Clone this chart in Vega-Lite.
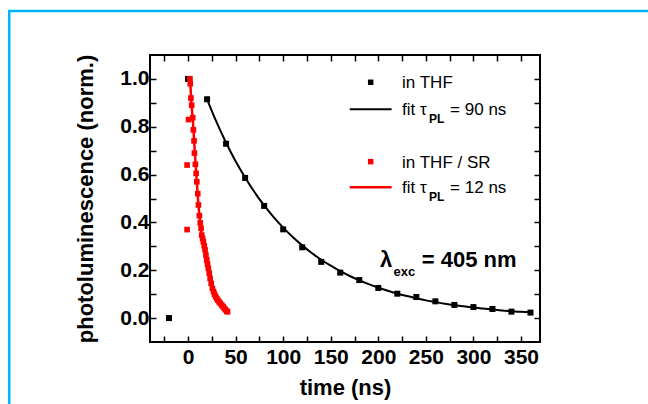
{
  "$schema": "https://vega.github.io/schema/vega-lite/v6.json",
  "width": 390,
  "height": 287,
  "autosize": "none",
  "padding": {"left": 150, "top": 55, "right": 108, "bottom": 62},
  "background": "white",
  "config": {
    "view": {"stroke": "black", "strokeWidth": 2},
    "font": "Liberation Sans",
    "axis": {
      "domain": false,
      "grid": false,
      "tickColor": "black",
      "tickWidth": 1.5,
      "tickSize": -6,
      "labelFont": "Liberation Sans",
      "labelFontSize": 21,
      "labelFontWeight": "bold",
      "labelColor": "black",
      "titleFont": "Liberation Sans",
      "titleFontSize": 22,
      "titleFontWeight": "bold",
      "titleColor": "black"
    }
  },
  "datasets": {
    "thf": [
      {"t": -20, "pl": 0.0},
      {"t": 0, "pl": 1.0},
      {"t": 20, "pl": 0.915},
      {"t": 40, "pl": 0.729},
      {"t": 60, "pl": 0.586},
      {"t": 80, "pl": 0.469},
      {"t": 100, "pl": 0.371},
      {"t": 120, "pl": 0.296},
      {"t": 140, "pl": 0.235},
      {"t": 160, "pl": 0.19},
      {"t": 180, "pl": 0.159},
      {"t": 200, "pl": 0.126},
      {"t": 220, "pl": 0.102},
      {"t": 240, "pl": 0.088},
      {"t": 260, "pl": 0.07},
      {"t": 280, "pl": 0.055},
      {"t": 300, "pl": 0.046},
      {"t": 320, "pl": 0.038},
      {"t": 340, "pl": 0.027},
      {"t": 360, "pl": 0.023}
    ],
    "thf_fit": [
      {"t": 20, "pl": 0.915}, {"t": 30, "pl": 0.819}, {"t": 40, "pl": 0.733},
      {"t": 50, "pl": 0.656}, {"t": 60, "pl": 0.588}, {"t": 70, "pl": 0.526},
      {"t": 80, "pl": 0.471}, {"t": 90, "pl": 0.422}, {"t": 100, "pl": 0.378},
      {"t": 110, "pl": 0.339}, {"t": 120, "pl": 0.304}, {"t": 130, "pl": 0.272},
      {"t": 140, "pl": 0.244}, {"t": 150, "pl": 0.219}, {"t": 160, "pl": 0.196},
      {"t": 170, "pl": 0.176}, {"t": 180, "pl": 0.158}, {"t": 190, "pl": 0.142},
      {"t": 200, "pl": 0.127}, {"t": 210, "pl": 0.114}, {"t": 220, "pl": 0.102},
      {"t": 230, "pl": 0.092}, {"t": 240, "pl": 0.083}, {"t": 250, "pl": 0.074},
      {"t": 260, "pl": 0.067}, {"t": 270, "pl": 0.06}, {"t": 280, "pl": 0.054},
      {"t": 290, "pl": 0.049}, {"t": 300, "pl": 0.044}, {"t": 310, "pl": 0.04},
      {"t": 320, "pl": 0.036}, {"t": 330, "pl": 0.032}, {"t": 340, "pl": 0.029},
      {"t": 350, "pl": 0.026}, {"t": 360, "pl": 0.024}
    ],
    "sr": [
      {"t": -1, "pl": 0.37}, {"t": -1, "pl": 0.64}, {"t": 0.5, "pl": 0.83},
      {"t": 2.0, "pl": 1.0}, {"t": 2.3, "pl": 0.98}, {"t": 3.0, "pl": 0.92},
      {"t": 3.8, "pl": 0.89}, {"t": 4.9, "pl": 0.838}, {"t": 5.6, "pl": 0.787},
      {"t": 6.3, "pl": 0.741}, {"t": 6.7, "pl": 0.69}, {"t": 7.7, "pl": 0.643},
      {"t": 8.5, "pl": 0.605}, {"t": 9.2, "pl": 0.57}, {"t": 10.2, "pl": 0.52},
      {"t": 10.9, "pl": 0.473}, {"t": 11.9, "pl": 0.428}, {"t": 12.8, "pl": 0.398},
      {"t": 13.7, "pl": 0.375}, {"t": 14.4, "pl": 0.347}, {"t": 15.3, "pl": 0.333},
      {"t": 16.1, "pl": 0.319}, {"t": 17.0, "pl": 0.302}, {"t": 17.9, "pl": 0.285},
      {"t": 18.8, "pl": 0.263}, {"t": 19.7, "pl": 0.243}, {"t": 20.5, "pl": 0.225},
      {"t": 21.3, "pl": 0.208}, {"t": 22.3, "pl": 0.188}, {"t": 23.2, "pl": 0.166},
      {"t": 24.3, "pl": 0.145}, {"t": 25.6, "pl": 0.124}, {"t": 26.8, "pl": 0.111},
      {"t": 27.8, "pl": 0.1}, {"t": 29.0, "pl": 0.09}, {"t": 30.2, "pl": 0.082},
      {"t": 31.3, "pl": 0.075}, {"t": 32.6, "pl": 0.068}, {"t": 34.0, "pl": 0.061},
      {"t": 35.5, "pl": 0.054}, {"t": 36.8, "pl": 0.048}, {"t": 38.1, "pl": 0.041},
      {"t": 39.3, "pl": 0.035}, {"t": 40.7, "pl": 0.029}, {"t": 41.5, "pl": 0.026}
    ],
    "sr_fit": [
      {"t": 2.3, "pl": 0.99}, {"t": 3.5, "pl": 0.9}, {"t": 5, "pl": 0.83},
      {"t": 7, "pl": 0.7}, {"t": 9, "pl": 0.58}, {"t": 11, "pl": 0.47},
      {"t": 13, "pl": 0.39}, {"t": 15, "pl": 0.335}, {"t": 17, "pl": 0.3},
      {"t": 19, "pl": 0.26}, {"t": 21, "pl": 0.215}, {"t": 23, "pl": 0.17},
      {"t": 25, "pl": 0.135}, {"t": 27, "pl": 0.108}, {"t": 29, "pl": 0.09},
      {"t": 31, "pl": 0.077}, {"t": 33, "pl": 0.066}, {"t": 35, "pl": 0.056},
      {"t": 37, "pl": 0.047}, {"t": 39, "pl": 0.037}, {"t": 41.5, "pl": 0.026}
    ],
    "one": [{}]
  },
  "layer": [
    {
      "data": {"name": "thf_fit"},
      "mark": {"type": "line", "color": "black", "strokeWidth": 2, "interpolate": "monotone"},
      "encoding": {
        "x": {
          "field": "t", "type": "quantitative",
          "scale": {"domain": [-40, 370], "nice": false, "zero": false},
          "axis": {
            "orient": "bottom",
            "values": [-25, 0, 25, 50, 75, 100, 125, 150, 175, 200, 225, 250, 275, 300, 325, 350],
            "labelExpr": "datum.value % 50 === 0 ? datum.label : ''",
            "labelPadding": 10,
            "title": "time (ns)",
            "titlePadding": 10
          }
        },
        "y": {
          "field": "pl", "type": "quantitative",
          "scale": {"domain": [-0.1, 1.1], "nice": false, "zero": false},
          "axis": {
            "orient": "left",
            "values": [0, 0.1, 0.2, 0.3, 0.4, 0.5, 0.6, 0.7, 0.8, 0.9, 1.0],
            "labelExpr": "round(datum.value * 10) % 2 === 0 ? format(datum.value, '.1f') : ''",
            "labelPadding": 7,
            "title": "photoluminescence (norm.)",
            "titlePadding": 22
          }
        }
      }
    },
    {
      "data": {"name": "sr_fit"},
      "mark": {"type": "line", "color": "#ff0000", "strokeWidth": 2.5, "interpolate": "monotone"},
      "encoding": {
        "x": {
          "field": "t", "type": "quantitative",
          "scale": {"domain": [-40, 370], "nice": false, "zero": false},
          "axis": {
            "orient": "top",
            "values": [-25, 0, 25, 50, 75, 100, 125, 150, 175, 200, 225, 250, 275, 300, 325, 350],
            "labels": false,
            "title": null
          }
        },
        "y": {
          "field": "pl", "type": "quantitative",
          "scale": {"domain": [-0.1, 1.1], "nice": false, "zero": false},
          "axis": {
            "orient": "right",
            "values": [0, 0.1, 0.2, 0.3, 0.4, 0.5, 0.6, 0.7, 0.8, 0.9, 1.0],
            "labels": false,
            "title": null
          }
        }
      }
    },
    {
      "data": {"name": "thf"},
      "mark": {"type": "square", "color": "black", "filled": true, "opacity": 1, "size": 36},
      "encoding": {
        "x": {"field": "t", "type": "quantitative", "axis": null},
        "y": {"field": "pl", "type": "quantitative", "axis": null}
      }
    },
    {
      "data": {"name": "sr"},
      "mark": {"type": "square", "color": "#ff0000", "filled": true, "opacity": 1, "size": 32},
      "encoding": {
        "x": {"field": "t", "type": "quantitative", "axis": null},
        "y": {"field": "pl", "type": "quantitative", "axis": null}
      }
    },
    {
      "data": {"name": "one"},
      "mark": {"type": "square", "color": "black", "filled": true, "opacity": 1, "size": 30},
      "encoding": {
        "x": {"datum": 192, "type": "quantitative", "axis": null},
        "y": {"datum": 0.986, "type": "quantitative", "axis": null}
      }
    },
    {
      "data": {"name": "one"},
      "mark": {"type": "square", "color": "#ff0000", "filled": true, "opacity": 1, "size": 30},
      "encoding": {
        "x": {"datum": 192, "type": "quantitative", "axis": null},
        "y": {"datum": 0.654, "type": "quantitative", "axis": null}
      }
    },
    {
      "data": {"name": "one"},
      "mark": {"type": "rule", "color": "black", "strokeWidth": 2},
      "encoding": {
        "x": {"datum": 170, "type": "quantitative", "axis": null},
        "x2": {"datum": 214},
        "y": {"datum": 0.873, "type": "quantitative", "axis": null}
      }
    },
    {
      "data": {"name": "one"},
      "mark": {"type": "rule", "color": "#ff0000", "strokeWidth": 2.5},
      "encoding": {
        "x": {"datum": 170, "type": "quantitative", "axis": null},
        "x2": {"datum": 214},
        "y": {"datum": 0.547, "type": "quantitative", "axis": null}
      }
    },
    {
      "data": {"name": "one"},
      "mark": {"type": "text", "text": "in THF", "align": "left", "baseline": "alphabetic", "fontSize": 17, "font": "Liberation Sans", "color": "black"},
      "encoding": {
        "x": {"datum": 225, "type": "quantitative", "axis": null},
        "y": {"datum": 0.961, "type": "quantitative", "axis": null}
      }
    },
    {
      "data": {"name": "one"},
      "mark": {"type": "text", "text": "fit τ", "align": "left", "baseline": "alphabetic", "fontSize": 17, "font": "Liberation Sans", "color": "black"},
      "encoding": {
        "x": {"datum": 225, "type": "quantitative", "axis": null},
        "y": {"datum": 0.849, "type": "quantitative", "axis": null}
      }
    },
    {
      "data": {"name": "one"},
      "mark": {"type": "text", "text": "PL", "align": "left", "baseline": "alphabetic", "fontSize": 12, "fontWeight": "bold", "font": "Liberation Sans", "color": "black"},
      "encoding": {
        "x": {"datum": 253.4, "type": "quantitative", "axis": null},
        "y": {"datum": 0.817, "type": "quantitative", "axis": null}
      }
    },
    {
      "data": {"name": "one"},
      "mark": {"type": "text", "text": "= 90 ns", "align": "left", "baseline": "alphabetic", "fontSize": 17, "font": "Liberation Sans", "color": "black"},
      "encoding": {
        "x": {"datum": 275.5, "type": "quantitative", "axis": null},
        "y": {"datum": 0.849, "type": "quantitative", "axis": null}
      }
    },
    {
      "data": {"name": "one"},
      "mark": {"type": "text", "text": "in THF / SR", "align": "left", "baseline": "alphabetic", "fontSize": 17, "font": "Liberation Sans", "color": "black"},
      "encoding": {
        "x": {"datum": 225, "type": "quantitative", "axis": null},
        "y": {"datum": 0.629, "type": "quantitative", "axis": null}
      }
    },
    {
      "data": {"name": "one"},
      "mark": {"type": "text", "text": "fit τ", "align": "left", "baseline": "alphabetic", "fontSize": 17, "font": "Liberation Sans", "color": "black"},
      "encoding": {
        "x": {"datum": 225, "type": "quantitative", "axis": null},
        "y": {"datum": 0.522, "type": "quantitative", "axis": null}
      }
    },
    {
      "data": {"name": "one"},
      "mark": {"type": "text", "text": "PL", "align": "left", "baseline": "alphabetic", "fontSize": 12, "fontWeight": "bold", "font": "Liberation Sans", "color": "black"},
      "encoding": {
        "x": {"datum": 253.4, "type": "quantitative", "axis": null},
        "y": {"datum": 0.49, "type": "quantitative", "axis": null}
      }
    },
    {
      "data": {"name": "one"},
      "mark": {"type": "text", "text": "= 12 ns", "align": "left", "baseline": "alphabetic", "fontSize": 17, "font": "Liberation Sans", "color": "black"},
      "encoding": {
        "x": {"datum": 275.5, "type": "quantitative", "axis": null},
        "y": {"datum": 0.522, "type": "quantitative", "axis": null}
      }
    },
    {
      "data": {"name": "one"},
      "mark": {"type": "text", "text": "λ", "align": "left", "baseline": "alphabetic", "fontSize": 22, "fontWeight": "bold", "font": "Liberation Sans", "color": "black"},
      "encoding": {
        "x": {"datum": 201.9, "type": "quantitative", "axis": null},
        "y": {"datum": 0.212, "type": "quantitative", "axis": null}
      }
    },
    {
      "data": {"name": "one"},
      "mark": {"type": "text", "text": "exc", "align": "left", "baseline": "alphabetic", "fontSize": 13, "fontWeight": "bold", "font": "Liberation Sans", "color": "black"},
      "encoding": {
        "x": {"datum": 215.9, "type": "quantitative", "axis": null},
        "y": {"datum": 0.176, "type": "quantitative", "axis": null}
      }
    },
    {
      "data": {"name": "one"},
      "mark": {"type": "text", "text": "= 405 nm", "align": "left", "baseline": "alphabetic", "fontSize": 22, "fontWeight": "bold", "font": "Liberation Sans", "color": "black"},
      "encoding": {
        "x": {"datum": 245.7, "type": "quantitative", "axis": null},
        "y": {"datum": 0.212, "type": "quantitative", "axis": null}
      }
    },
    {
      "data": {"name": "one"},
      "mark": {"type": "rect", "filled": false, "stroke": "#00b4f5", "strokeWidth": 2.5, "clip": false},
      "encoding": {
        "x": {"datum": -188, "type": "quantitative", "axis": null},
        "x2": {"datum": 520},
        "y": {"datum": 1.284, "type": "quantitative", "axis": null},
        "y2": {"datum": -0.6}
      }
    }
  ],
  "resolve": {"axis": {"x": "independent", "y": "independent"}}
}
